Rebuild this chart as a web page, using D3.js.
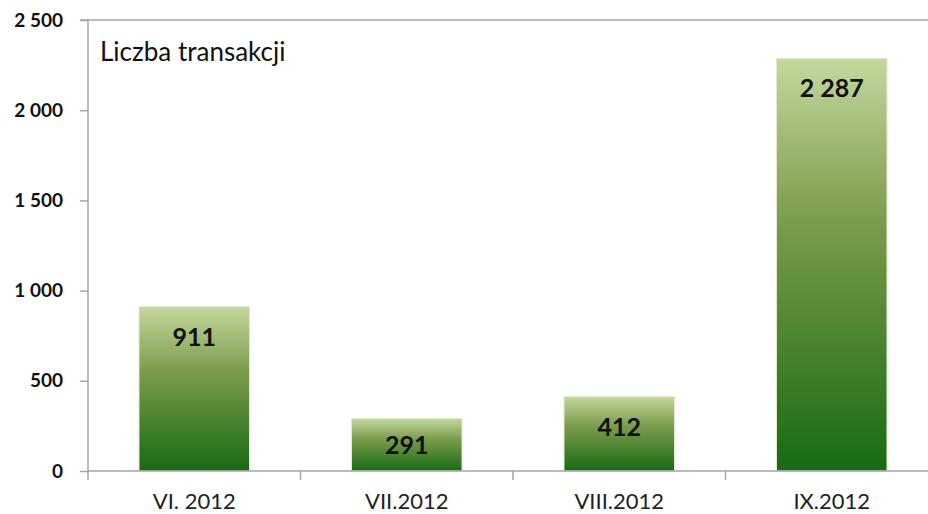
<!DOCTYPE html>
<html><head><meta charset="utf-8">
<script src="https://cdn.jsdelivr.net/npm/d3@7"></script>
<style>body{margin:0;background:#fff}svg{display:block}</style>
</head><body>
<svg id="c" width="928" height="514"></svg>
<script>
const categories = ["VI. 2012", "VII.2012", "VIII.2012", "IX.2012"];
const values = [911, 291, 412, 2287];
const yTicks = [0, 500, 1000, 1500, 2000, 2500];
const title = "Liczba transakcji";

const svg = d3.select("#c");
const font = "Lato, 'Open Sans', sans-serif";
const x0 = 88, x1 = 938, yTop = 20, yBot = 471;

const x = d3.scaleBand().domain(categories).range([x0, x1]).paddingInner(0.48).paddingOuter(0.24);
const y = d3.scaleLinear().domain([0, 2500]).range([yBot, yTop]);
const fmt = v => d3.format(",")(v).replace(/,/g, " ");

const defs = svg.append("defs");
const g = defs.append("linearGradient").attr("id", "bg").attr("x1", 0).attr("y1", 0).attr("x2", 0).attr("y2", 1);
g.append("stop").attr("offset", "0%").attr("stop-color", "#c4d89d");
g.append("stop").attr("offset", "40%").attr("stop-color", "#7a9b4b");
g.append("stop").attr("offset", "100%").attr("stop-color", "#186a14");

// top line
svg.append("line").attr("x1", 80).attr("x2", 928).attr("y1", y(2500)).attr("y2", y(2500))
  .attr("stroke", "#a6a6a6").attr("stroke-width", 1.5);

// bars
svg.selectAll("rect.bar").data(values).join("rect").attr("class", "bar")
  .attr("x", (d, i) => x(categories[i])).attr("width", x.bandwidth())
  .attr("y", d => y(d)).attr("height", d => y(0) - y(d))
  .attr("fill", "url(#bg)").attr("stroke", "#e2ead2").attr("stroke-width", 1);

// labels
svg.selectAll("text.val").data(values).join("text").attr("class", "val")
  .attr("x", (d, i) => x(categories[i]) + x.bandwidth() / 2)
  .attr("y", d => y(d) + Math.min(30, (y(0) - y(d)) / 2))
  .attr("dy", "0.36em").attr("text-anchor", "middle")
  .attr("font-family", font).attr("font-weight", "bold").attr("font-size", 25).attr("fill", "#111")
  .text(d => fmt(d));

// y axis
const ya = svg.append("g").attr("transform", `translate(${x0},0)`)
  .call(d3.axisLeft(y).tickValues(yTicks).tickSize(8).tickFormat(fmt));
ya.select(".domain").attr("stroke", "#a6a6a6").attr("stroke-width", 1.5).attr("d", `M0,${yTop}V${yBot}`);
ya.selectAll(".tick line").attr("stroke", "#a6a6a6").attr("stroke-width", 1.5);
ya.selectAll(".tick text").attr("x", -25).attr("font-family", font).attr("font-weight", "bold")
  .attr("font-size", 19).attr("fill", "#111");

// x axis
const xa = svg.append("g").attr("transform", `translate(0,${yBot})`)
  .call(d3.axisBottom(x).tickSize(0).tickPadding(22));
xa.select(".domain").attr("stroke", "#a6a6a6").attr("stroke-width", 1.5).attr("d", `M${x0},0H928`);
xa.selectAll(".tick text").attr("font-family", font).attr("font-size", 22).attr("fill", "#222");
xa.selectAll("line.sep").data(d3.range(categories.length)).join("line").attr("class", "sep")
  .attr("x1", i => x0 + i * (x1 - x0) / categories.length).attr("x2", i => x0 + i * (x1 - x0) / categories.length)
  .attr("y1", 0).attr("y2", 9).attr("stroke", "#a6a6a6").attr("stroke-width", 1.5);

svg.append("text").attr("x", 100).attr("y", 61).attr("font-family", font).attr("font-size", 26)
  .attr("fill", "#111").text(title);
</script>
</body></html>
